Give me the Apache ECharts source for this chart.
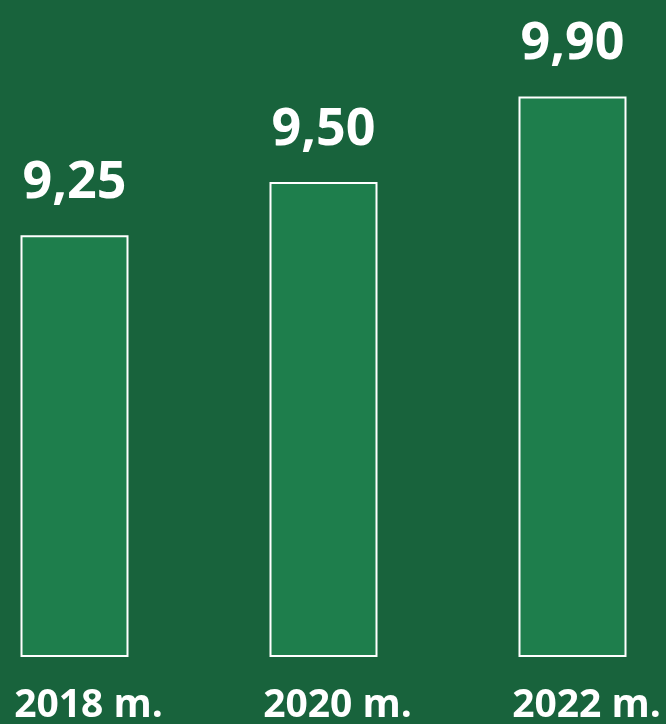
<!DOCTYPE html>
<html>
<head>
<meta charset="utf-8">
<script src="https://cdn.jsdelivr.net/npm/echarts@6/dist/echarts.min.js"></script>
<style>
html,body{margin:0;padding:0;background:#18633c;}
#c{width:666px;height:724px;}
</style>
</head>
<body>
<div id="c"></div>
<script>
var categories = ['2018 m.', '2020 m.', '2022 m.'];
var values = [9.25, 9.50, 9.90];

var chart = echarts.init(document.getElementById('c'));
chart.setOption({
  backgroundColor: '#18633c',
  animation: false,
  grid: { left: -50, right: -31, top: 56, bottom: 68, containLabel: false, outerBoundsMode: 'none' },
  xAxis: {
    type: 'category',
    data: categories,
    axisLine: { show: false },
    axisTick: { show: false },
    axisLabel: {
      color: '#ffffff',
      fontFamily: 'Open Sans',
      fontWeight: 'bold',
      fontSize: 39,
      margin: 30,
      padding: [0, 0, 0, 28]
    }
  },
  yAxis: {
    type: 'value',
    min: 7.28,
    max: 10.09,
    show: false,
    splitLine: { show: false }
  },
  series: [{
    type: 'bar',
    data: values,
    barWidth: 108,
    itemStyle: {
      color: '#1e7e4c',
      borderColor: '#ffffff',
      borderWidth: 2
    },
    label: {
      show: true,
      position: 'top',
      distance: 26,
      color: '#ffffff',
      fontFamily: 'Open Sans',
      fontWeight: 'bold',
      fontSize: 52,
      formatter: function (p) { return p.value.toFixed(2).replace('.', ','); }
    }
  }]
});
</script>
</body>
</html>
